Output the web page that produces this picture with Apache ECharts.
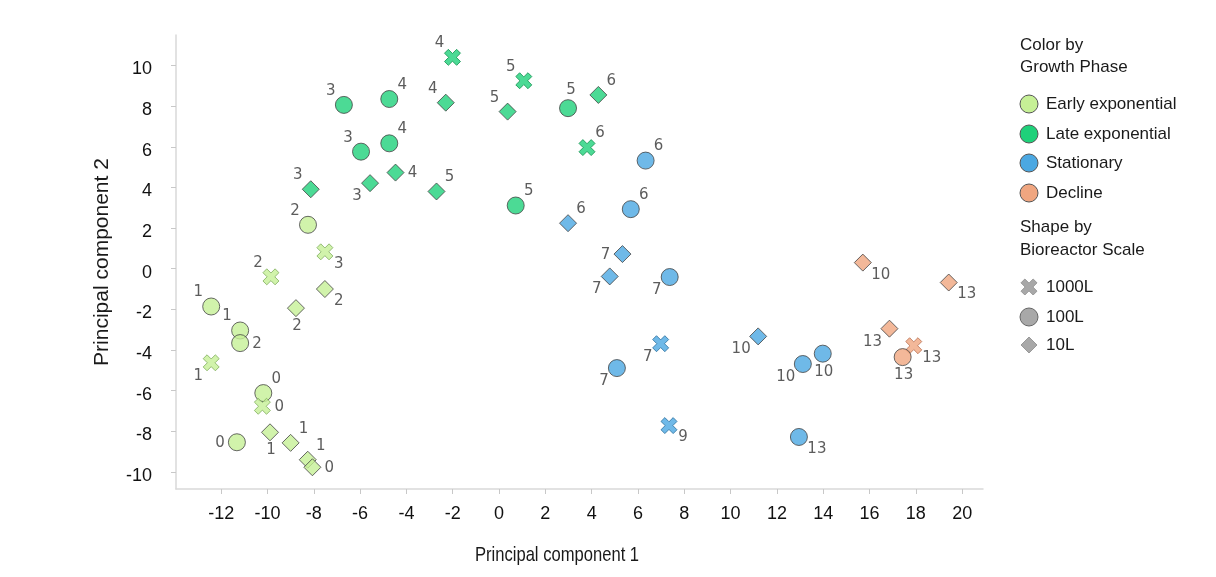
<!DOCTYPE html>
<html>
<head>
<meta charset="utf-8">
<script src="https://cdn.jsdelivr.net/npm/echarts@6/dist/echarts.min.js"></script>
<style>
html,body{margin:0;padding:0;background:#fff;}
#chart{width:1216px;height:577px;}
</style>
</head>
<body>
<div id="chart"></div>
<script>
// ---- data ----
const phases = ['Early exponential', 'Late exponential', 'Stationary', 'Decline'];
const scaleNames = ['1000L', '100L', '10L'];
const xTicks = [-12, -10, -8, -6, -4, -2, 0, 2, 4, 6, 8, 10, 12, 14, 16, 18, 20];
const yTicks = [-10, -8, -6, -4, -2, 0, 2, 4, 6, 8, 10];
const xTitle = 'Principal component 1';
const yTitle = 'Principal component 2';

const earlyX = [-8.25, -7.52, -9.85, -7.52, -8.77, -12.43, -11.18, -11.18, -12.43, -10.18, -10.22, -9.89, -9.00, -8.26, -8.06, -11.32];
const earlyY = [2.16, 0.83, -0.40, -1.00, -1.94, -1.86, -3.04, -3.66, -4.63, -6.12, -6.77, -8.05, -8.57, -9.40, -9.77, -8.54];
const earlyScale = ['100L', '1000L', '1000L', '10L', '10L', '100L', '100L', '100L', '1000L', '100L', '1000L', '10L', '10L', '10L', '10L', '100L'];
const earlyDay = [2, 3, 2, 2, 2, 1, 1, 2, 1, 0, 0, 1, 1, 1, 0, 0];

const lateX = [-6.70, -4.74, -5.96, -4.74, -8.13, -5.57, -4.47, -2.70, -2.01, -2.30, 1.07, 0.37, 2.98, 4.29, 3.80, 0.72];
const lateY = [8.06, 8.35, 5.76, 6.17, 3.91, 4.21, 4.73, 3.80, 10.40, 8.17, 9.25, 7.73, 7.90, 8.55, 5.96, 3.11];
const lateScale = ['100L', '100L', '100L', '100L', '10L', '10L', '10L', '10L', '1000L', '10L', '1000L', '10L', '100L', '10L', '1000L', '100L'];
const lateDay = [3, 4, 3, 4, 3, 3, 4, 5, 4, 4, 5, 5, 5, 6, 6, 5];

const statX = [6.33, 5.69, 2.98, 5.33, 4.78, 7.37, 6.98, 5.09, 7.34, 11.19, 13.12, 13.98, 12.95];
const statY = [5.32, 2.93, 2.24, 0.72, -0.38, -0.41, -3.69, -4.89, -7.72, -3.33, -4.69, -4.18, -8.28];
const statScale = ['100L', '100L', '10L', '10L', '10L', '100L', '1000L', '100L', '1000L', '10L', '100L', '100L', '100L'];
const statDay = [6, 6, 6, 7, 7, 7, 7, 7, 9, 10, 10, 10, 13];

const declX = [15.71, 19.42, 16.86, 17.91, 17.43];
const declY = [0.30, -0.68, -2.95, -3.79, -4.35];
const declScale = ['10L', '10L', '10L', '1000L', '100L'];
const declDay = [10, 13, 13, 13, 13];

// ---- label placement (style) ----
const earlyLab = ['tl', 'br', 'tl', 'br', 'b', 'tl', 'tl', 'r', 'bl', 'tr', 'r', 'b', 'tr', 'tr', 'r', 'l'];
const lateLab = ['tl', 'tr', 'tl', 'tr', 'tl', 'bl', 'r', 'tr', 'tl', 'tl', 'tl', 'tl', 't', 'tr', 'tr', 'tr'];
const statLab = ['tr', 'tr', 'tr', 'l', 'bl', 'bl', 'bl', 'bl', 'br', 'bl', 'bl', 'b', 'br'];
const declLab = ['br', 'br', 'bl', 'br', 'b'];

// ---- styles ----
const phaseColors = ['#c6f096', '#1fd17a', '#4ba8e2', '#f0a680'];
const xBorder = ['#7fae5c', '#11914f', '#2a6f9e', '#b86e4f'];
const X_PTS = [[2.4,0],[5,2.6],[7.6,0],[10,2.4],[7.4,5],[10,7.6],[7.6,10],[5,7.4],[2.4,10],[0,7.6],[2.6,5],[0,2.4]];
const X_PATH = 'path://M' + X_PTS.map(function (p) { return p[0] + ',' + p[1]; }).join('L') + 'Z';
const symbolFor = { '1000L': X_PATH, '100L': 'circle', '10L': 'diamond' };
const sizeFor = { '1000L': 16, '100L': 17, '10L': 17 };
const OFF = { tl: [-13, -14], tr: [13, -14], bl: [-13, 13], br: [14, 12], l: [-17, 1], r: [17, 1], t: [3, -18], b: [1, 18] };

function buildSeries(i, xs, ys, sc, days, labs) {
  const data = xs.map(function (x, k) {
    const code = labs[k];
    const o = OFF[code].slice();
    if (String(days[k]).length > 1) {
      if (code === 'tl' || code === 'bl' || code === 'l') o[0] -= 4;
      if (code === 'tr' || code === 'br' || code === 'r') o[0] += 4;
    }
    const isX = sc[k] === '1000L';
    return {
      value: [x, ys[k]],
      symbol: symbolFor[sc[k]],
      symbolSize: sizeFor[sc[k]],
      itemStyle: { color: phaseColors[i], borderColor: isX ? xBorder[i] : '#444', borderWidth: 1 },
      label: { show: true, formatter: String(days[k]), position: 'inside', offset: o }
    };
  });
  return {
    name: phases[i],
    type: 'scatter',
    data: data,
    symbolKeepAspect: true,
    label: { show: true, fontFamily: 'DejaVu Sans', fontSize: 15, color: '#333', align: 'center', verticalAlign: 'middle' },
    emphasis: { disabled: true },
    z: 2 + i
  };
}

const series = [
  buildSeries(0, earlyX, earlyY, earlyScale, earlyDay, earlyLab),
  buildSeries(1, lateX, lateY, lateScale, lateDay, lateLab),
  buildSeries(2, statX, statY, statScale, statDay, statLab),
  buildSeries(3, declX, declY, declScale, declDay, declLab)
];

// ---- legend + x-title graphics ----
const lgFont = '17px "Liberation Sans", Arial, sans-serif';
const graphics = [];
function txt(x, y, t) {
  graphics.push({ type: 'text', x: x, y: y, style: { text: t, font: lgFont, fill: '#1a1a1a', verticalAlign: 'middle', align: 'left' }, silent: true });
}
txt(1020, 45, 'Color by');
txt(1020, 67, 'Growth Phase');
const phaseRowY = [104, 134, 163, 193];
phases.forEach(function (p, i) {
  graphics.push({ type: 'circle', shape: { cx: 1029, cy: phaseRowY[i], r: 9 }, style: { fill: phaseColors[i], stroke: '#555', lineWidth: 1 }, silent: true });
  txt(1046, phaseRowY[i], p);
});
txt(1020, 227, 'Shape by');
txt(1020, 250, 'Bioreactor Scale');
const scaleRowY = [287, 317, 345];
graphics.push({ type: 'polygon', shape: { points: X_PTS.map(function (p) { return [1021 + p[0] * 1.6, scaleRowY[0] - 8 + p[1] * 1.6]; }) }, style: { fill: '#a8a8a8', stroke: '#999', lineWidth: 1 }, silent: true });
graphics.push({ type: 'circle', shape: { cx: 1029, cy: scaleRowY[1], r: 9 }, style: { fill: '#a8a8a8', stroke: '#666', lineWidth: 1 }, silent: true });
graphics.push({ type: 'polygon', shape: { points: [[1029, scaleRowY[2] - 8], [1037, scaleRowY[2]], [1029, scaleRowY[2] + 8], [1021, scaleRowY[2]]] }, style: { fill: '#a8a8a8', stroke: '#999', lineWidth: 1 }, silent: true });
scaleNames.forEach(function (s, i) { txt(1046, scaleRowY[i], s); });
// x-axis title, horizontally condensed like the reference
graphics.push({ type: 'text', x: 557, y: 555, scaleX: 0.79, scaleY: 1, style: { text: xTitle, font: '21px "Liberation Sans", Arial, sans-serif', fill: '#1a1a1a', align: 'center', verticalAlign: 'middle' }, silent: true });

const chart = echarts.init(document.getElementById('chart'), null, { renderer: 'canvas' });
chart.setOption({
  animation: false,
  backgroundColor: '#fff',
  grid: { left: 176, right: 233, top: 35, bottom: 88, containLabel: false },
  xAxis: {
    type: 'value', min: -13.95, max: 20.9,
    axisLine: { show: true, onZero: false, lineStyle: { color: '#d9d9d9', width: 1.5 } },
    axisTick: { show: true, length: 5, lineStyle: { color: '#c8c8c8' }, customValues: xTicks },
    axisLabel: { customValues: xTicks, margin: 16, fontFamily: '"Liberation Sans", Arial', fontSize: 18, color: '#111' },
    splitLine: { show: false }
  },
  yAxis: {
    type: 'value', min: -10.84, max: 11.5,
    name: yTitle, nameLocation: 'middle', nameGap: 63, nameRotate: 90,
    nameTextStyle: { fontFamily: '"Liberation Sans", Arial', fontSize: 21, color: '#1a1a1a' },
    axisLine: { show: true, onZero: false, lineStyle: { color: '#d9d9d9', width: 1.5 } },
    axisTick: { show: true, length: 5, lineStyle: { color: '#c8c8c8' }, customValues: yTicks },
    axisLabel: { customValues: yTicks, margin: 24, verticalAlign: 'top', lineHeight: 8, fontFamily: '"Liberation Sans", Arial', fontSize: 18, color: '#111' },
    splitLine: { show: false }
  },
  graphic: graphics,
  series: series
});
</script>
</body>
</html>
